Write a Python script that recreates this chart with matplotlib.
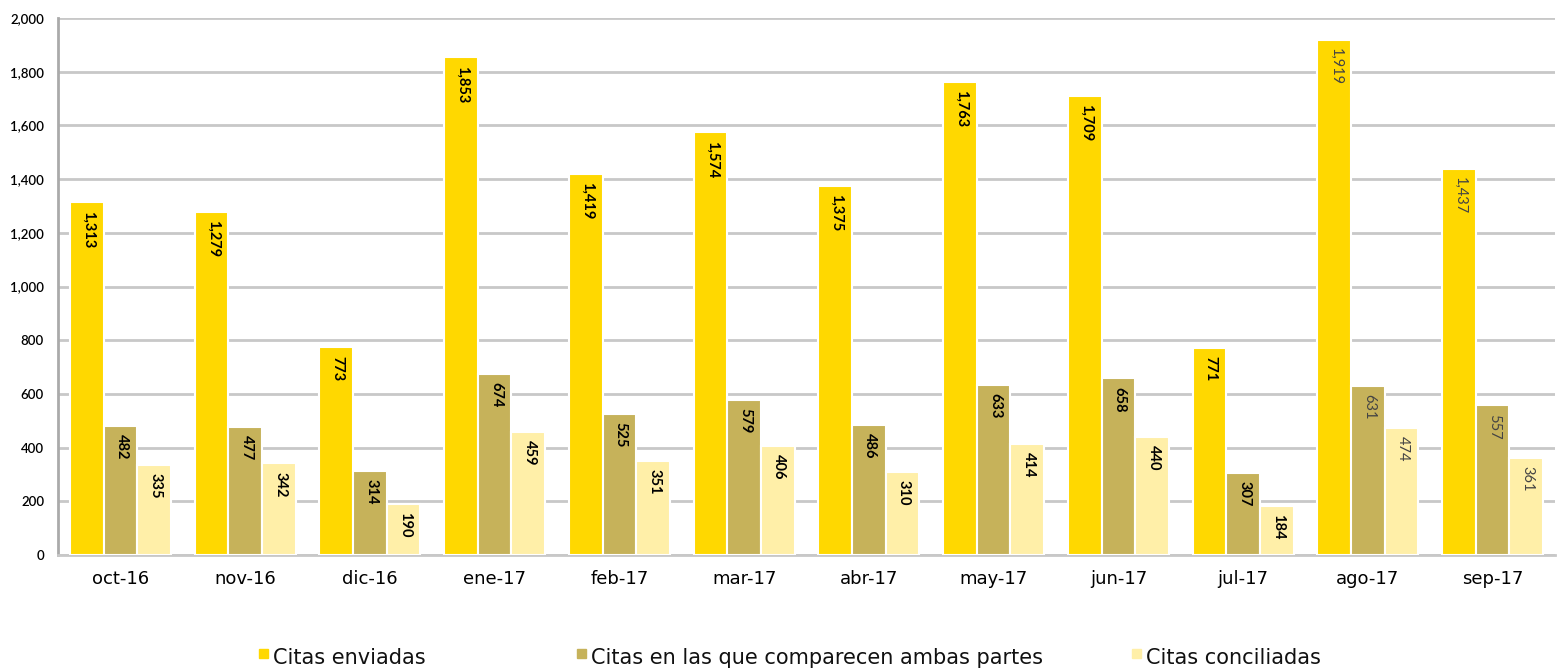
import matplotlib
matplotlib.use("Agg")
import matplotlib.pyplot as plt
from matplotlib.patches import Rectangle
import numpy as np

plt.rcParams['font.family'] = ['DejaVu Sans']

months = ["oct-16", "nov-16", "dic-16", "ene-17", "feb-17", "mar-17",
          "abr-17", "may-17", "jun-17", "jul-17", "ago-17", "sep-17"]
enviadas = [1313, 1279, 773, 1853, 1419, 1574, 1375, 1763, 1709, 771, 1919, 1437]
ambas = [482, 477, 314, 674, 525, 579, 486, 633, 658, 307, 631, 557]
conciliadas = [335, 342, 190, 459, 351, 406, 310, 414, 440, 184, 474, 361]
series_names = ["Citas enviadas", "Citas en las que comparecen ambas partes", "Citas conciliadas"]
colors = ["#FFD800", "#C6B25A", "#FFEFA8"]

fig = plt.figure(figsize=(15.59, 6.70), dpi=100)
ax = fig.add_axes([58/1559, 1-555/670, (1555-58)/1559, (555-18)/670])

x = np.arange(len(months))
w = 0.27
for i, (vals, c) in enumerate(zip([enviadas, ambas, conciliadas], colors)):
    bars = ax.bar(x + (i-1)*w, vals, width=w, color=c, edgecolor="white", linewidth=1.5, zorder=3)
    for j, (b, v) in enumerate(zip(bars, vals)):
        light = j >= 10
        ax.annotate(f"{v:,}", (b.get_x()+b.get_width()/2, v), xytext=(1, -6),
                    textcoords="offset points", rotation=-90, ha="center", va="top",
                    fontsize=10.5, fontweight="normal" if light else "bold",
                    family="Lato", color="#444444" if light else "black", zorder=4)

ax.set_xlim(-0.5, 11.5)
ax.set_ylim(0, 2000)
ax.set_yticks(range(0, 2001, 200))
ax.set_yticklabels([f"{t:,}" for t in range(0, 2001, 200)], fontsize=9.5,
                   fontweight="semibold", family="Lato")
ax.set_xticks(x)
ax.set_xticklabels(months, fontsize=13)
ax.tick_params(axis="y", length=0, pad=10)
ax.tick_params(axis="x", length=0, pad=11)
ax.grid(axis="y", color="#c8c8c8", linewidth=2, zorder=0)
for s in ["top", "right"]:
    ax.spines[s].set_visible(False)
ax.spines["left"].set_color("#aaaaaa")
ax.spines["left"].set_linewidth(2)
ax.spines["bottom"].set_color("#c8c8c8")
ax.spines["bottom"].set_linewidth(2)

# legend
leg_x = [259, 577, 1132]
for lx, name, c in zip(leg_x, series_names, colors):
    fig.add_artist(Rectangle((lx/1559, 1-658/670), 9/1559, 9/670, transform=fig.transFigure,
                             color=c, zorder=5))
    fig.text((lx+14)/1559, 1-658/670, name, fontsize=15, va="center", ha="left", color="#111111")

fig.savefig("out.png", dpi=100)
